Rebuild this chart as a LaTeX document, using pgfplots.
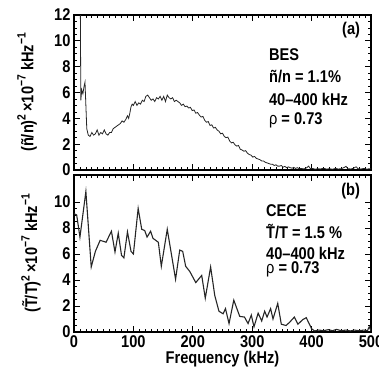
\documentclass[border=0pt]{standalone}
\usepackage{fontspec}
\setmainfont{Liberation Sans}[FakeStretch=0.86]
\usepackage{pgfplots}
\pgfplotsset{compat=1.18}
\newcommand{\fs}{\fontsize{17}{18}\selectfont\bfseries}
\newcommand{\sps}[1]{\raisebox{0.45em}{\fontsize{12}{12}\selectfont\bfseries #1}}
\pgfplotsset{
  panel/.style={
    scale only axis, width=297pt, anchor=south west,
    xmin=0, xmax=500, ymin=0,
    xtick={0,100,...,500},
    minor x tick num=9, minor y tick num=3,
    tick align=inside, major tick length=6pt, minor tick length=3pt,
    axis line style={line width=1.1pt},
    every tick/.style={black, line width=0.7pt},
    tick label style={font=\fs},
    /pgf/number format/assume math mode=true,
    label style={font=\fs},
    ylabel style={at={(axis description cs:-0.158,0.5)}, anchor=center, rotate=0},
    clip=true,
  }
}
\begin{document}
\begin{tikzpicture}[x=1pt,y=1pt]
\useasboundingbox (0,0) rectangle (379,376);
% ---------------- top panel ----------------
\begin{axis}[panel, at={(74pt,206pt)}, height=155pt, ymax=12,
  ytick={0,2,...,12}, xticklabels={},
  ylabel={(ñ/n)\sps{2}\,×10\sps{−7} kHz\sps{−1}}]
\addplot[line width=0.8pt, black!85] coordinates {
(10.5,14) (11.5,5.4) (13,6.2) (15,5.9) (17,6.5) (18.5,6.8) (20,5.0) (21.5,3.2)
(24,2.7) (27,2.6) (30,2.9) (33,2.7) (36,2.8) (39,3.1) (42,2.7) (45,2.9) (48,2.8)
(51,3.1) (54,2.8) (57,2.7) (60,2.9) (63,2.9) (66,3.2) (69,3.3) (72,3.4) (75,3.5)
(78,3.6) (81,3.8) (84,3.7) (87,3.9) (90,4.2) (92,4.0) (94,4.4) (96,4.9) (98,5.1)
(100,5.0) (103,5.3) (106,5.0) (109,5.2) (112,5.1) (115,5.4) (118,5.3) (121,5.7)
(124,5.8) (127,5.6) (130,5.4) (133,5.5) (136,5.3) (139,5.6) (142,5.5) (145,5.7)
(148,5.4) (151,5.7) (154,5.3) (157,5.8) (160,5.6) (163,5.5) (166,5.6) (169,5.3)
(172,5.4) (175,5.3) (178,5.2) (181,5.0) (184,5.1) (187,4.9) (190,4.95) (193,4.8)
(196,4.85) (199,4.6) (202,4.65) (205,4.4) (208,4.45) (211,4.25) (214,4.1) (217,4.15)
(220,3.85) (223,3.7) (226,3.75) (229,3.45) (232,3.5) (235,3.25) (238,3.3) (241,3.1)
(244,3.0) (247,2.8) (250,2.85) (253,2.6) (256,2.5) (259,2.55) (262,2.25) (265,2.1)
(268,2.15) (271,1.95) (274,1.85) (277,1.9) (280,1.6) (283,1.55) (286,1.45) (289,1.5)
(292,1.3) (295,1.2) (298,1.15) (301,1.0) (304,1.05) (307,0.9) (310,0.85) (313,0.8)
(316,0.7) (319,0.7) (322,0.6) (325,0.55) (328,0.5) (331,0.45) (334,0.45) (337,0.35)
(340,0.4) (343,0.3) (346,0.3) (349,0.35) (352,0.22) (355,0.28) (358,0.18) (361,0.24)
(364,0.18) (367,0.14) (370,0.2) (373,0.12) (376,0.18) (379,0.1) (383,0.12) (387,0.08)
(391,0.15) (395,0.3) (398,0.1) (402,0.12) (406,0.06) (410,0.1) (415,0.08) (420,0.14)
(425,0.07) (430,0.1) (435,0.06) (440,0.12) (445,0.08) (450,0.1) (455,0.2) (458,0.28)
(461,0.1) (466,0.08) (470,0.12) (475,0.25) (478,0.1) (483,0.08) (488,0.12) (493,0.07)
(497,0.1) (500,0.1)
};
\node[anchor=east, font=\fs] at (axis description cs:0.975,0.905) {(a)};
\node[anchor=west, font=\fs] at (axis description cs:0.645,0.742) {BES};
\node[anchor=west, font=\fs] at (axis description cs:0.645,0.60) {ñ/n = 1.1\%};
\node[anchor=west, font=\fs] at (axis description cs:0.645,0.458) {40–400 kHz};
\node[anchor=west, font=\fs] at (axis description cs:0.645,0.32) {{\mdseries ρ} = 0.73};
\end{axis}
% ---------------- bottom panel ----------------
\begin{axis}[panel, at={(74pt,44pt)}, height=157pt, ymax=12.07,
  ytick={0,2,...,10},
  xlabel={Frequency (kHz)},
  xlabel style={yshift=3pt},
  ylabel style={at={(axis description cs:-0.145,0.5)}},
  ylabel={(T̃/T)\sps{2}\,×10\sps{−7} kHz\sps{−1}}]
\addplot[line width=1.1pt, black!85] coordinates {
(0,9.1) (4.5,9.0) (10,7.3) (20,10.8) (29,5.0) (36,6.2) (44,7.05) (54,6.9) (63,7.75)
(69,6.15) (74.5,7.6) (80,5.9) (84,5.7) (90,7.7) (96,6.2) (100,6.0) (108,9.5)
(114,7.9) (119,7.8) (123,7.3) (129,7.75) (133,7.2) (142,6.9) (147,5.05) (157,7.9)
(171,4.05) (178,6.3) (183,6.2) (188,5.05) (195,4.65) (205,3.8) (215,4.35) (221,2.6)
(230,5.0) (237,2.8) (244,1.6) (251,1.4) (255,1.8) (261,0.65) (269,2.45) (279,1.2)
(287,1.15) (293,0.65) (298.5,1.3) (303,0.4) (310,1.45) (316,0.85) (321,1.6)
(325,1.15) (331,1.8) (335,1.0) (343,2.2) (349,0.6) (357,0.5) (363,0.75) (371,1.15)
(377,0.6) (385,0.95) (391,1.1) (400,0.25) (405,0.08) (412,0.15) (420,0.1) (428,0.18)
(435,0.1) (442,0.2) (450,0.1) (458,0.15) (465,0.08) (472,0.15) (480,0.1) (488,0.15)
(494,0.1) (497,0.4) (500,0.1)
};
\node[anchor=east, font=\fs] at (axis description cs:0.975,0.898) {(b)};
\node[anchor=west, font=\fs] at (axis description cs:0.635,0.775) {CECE};
\node[anchor=west, font=\fs] at (axis description cs:0.635,0.64) {T̃/T = 1.5 \%};
\node[anchor=west, font=\fs] at (axis description cs:0.635,0.50) {40–400 kHz};
\node[anchor=west, font=\fs] at (axis description cs:0.635,0.40) {{\mdseries ρ} = 0.73};
\end{axis}
\end{tikzpicture}
\end{document}
